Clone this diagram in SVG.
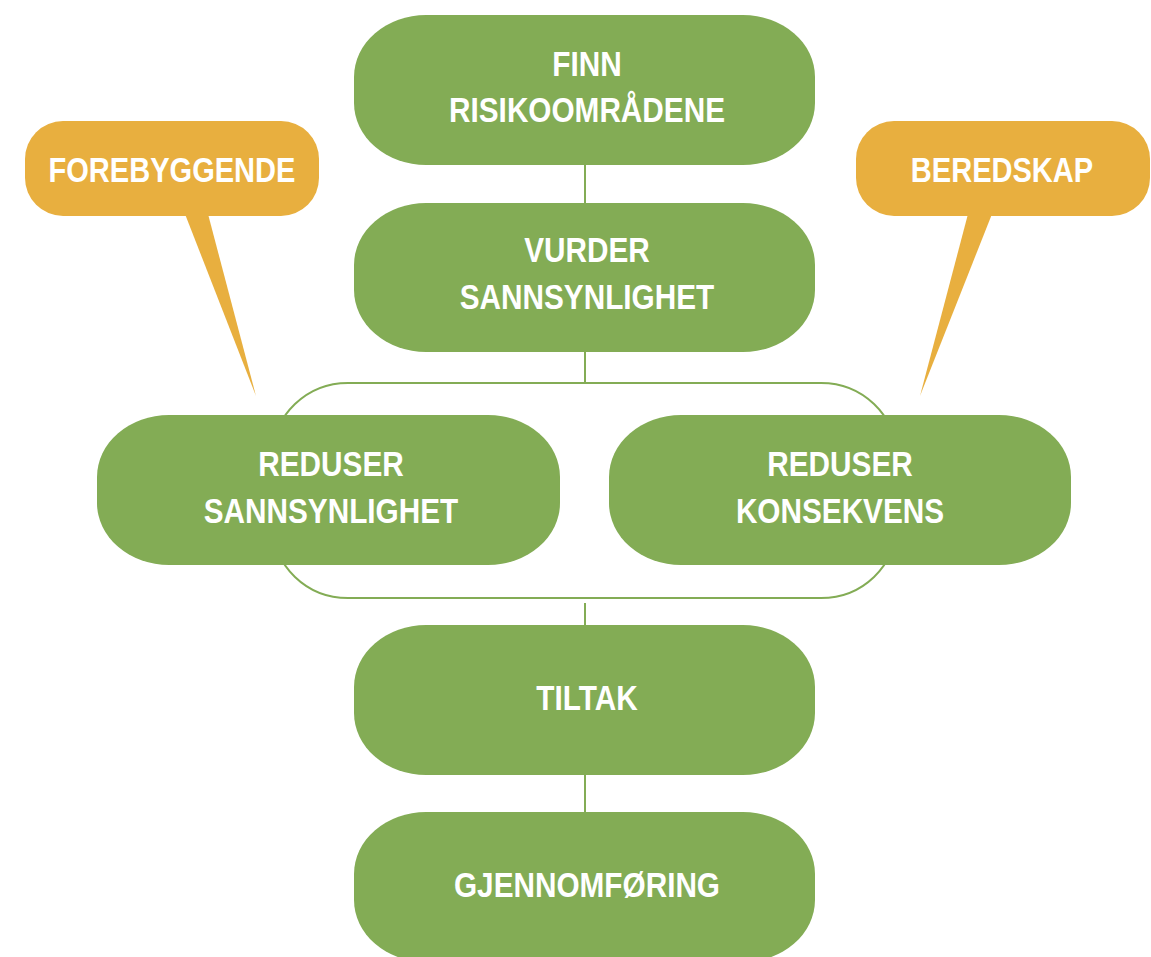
<svg xmlns="http://www.w3.org/2000/svg" width="1151" height="957" viewBox="0 0 1151 957">
<style>
.node{fill:#83AC55}
.call{fill:#E8AF3F}
.lbl{font-family:"Liberation Sans",Arial,sans-serif;font-weight:bold;font-size:35px;fill:#FFFFFF;text-anchor:middle}
.conn{fill:none;stroke:#83AC55;stroke-width:2}
</style>
<rect width="1151" height="957" fill="#FFFFFF"/>
<g id="connectors">
<line class="conn" x1="585" y1="165" x2="585" y2="203"/>
<line class="conn" x1="585" y1="352" x2="585" y2="383"/>
<rect class="conn" x="273" y="383" width="623" height="215" rx="75" ry="72"/>
<line class="conn" x1="585" y1="603" x2="585" y2="625"/>
<line class="conn" x1="585" y1="775" x2="585" y2="812"/>
</g>
<g id="callout-forebyggende">
<path class="call" d="M185,214 L208,214 L256,396 Z"/>
<rect class="call" x="25" y="121" width="294" height="95" rx="38" ry="38"/>
<g transform="translate(172,0) scale(0.83,1)"><text class="lbl" x="0" y="182">FOREBYGGENDE</text></g>
</g>
<g id="callout-beredskap">
<path class="call" d="M968,214 L992,214 L920,396 Z"/>
<rect class="call" x="856" y="121" width="294" height="95" rx="38" ry="38"/>
<g transform="translate(1002,0) scale(0.83,1)"><text class="lbl" x="0" y="182">BEREDSKAP</text></g>
</g>
<g id="node-finn">
<rect class="node" x="354" y="15" width="461" height="150" rx="72" ry="62"/>
<g transform="translate(587,0) scale(0.85,1)"><text class="lbl" x="0" y="76">FINN</text><text class="lbl" x="0" y="122">RISIKOOMRÅDENE</text></g>
</g>
<g id="node-vurder">
<rect class="node" x="354" y="203" width="461" height="149" rx="72" ry="62"/>
<g transform="translate(587,0) scale(0.85,1)"><text class="lbl" x="0" y="262">VURDER</text><text class="lbl" x="0" y="309">SANNSYNLIGHET</text></g>
</g>
<g id="node-reduser-sannsynlighet">
<rect class="node" x="97" y="415" width="463" height="150" rx="72" ry="62"/>
<g transform="translate(331,0) scale(0.85,1)"><text class="lbl" x="0" y="476">REDUSER</text><text class="lbl" x="0" y="523">SANNSYNLIGHET</text></g>
</g>
<g id="node-reduser-konsekvens">
<rect class="node" x="609" y="415" width="462" height="150" rx="72" ry="62"/>
<g transform="translate(840,0) scale(0.85,1)"><text class="lbl" x="0" y="476">REDUSER</text><text class="lbl" x="0" y="523">KONSEKVENS</text></g>
</g>
<g id="node-tiltak">
<rect class="node" x="354" y="625" width="461" height="150" rx="72" ry="62"/>
<g transform="translate(587,0) scale(0.85,1)"><text class="lbl" x="0" y="710">TILTAK</text></g>
</g>
<g id="node-gjennomforing">
<rect class="node" x="354" y="812" width="461" height="150" rx="72" ry="62"/>
<g transform="translate(587,0) scale(0.85,1)"><text class="lbl" x="0" y="897">GJENNOMFØRING</text></g>
</g>
</svg>
